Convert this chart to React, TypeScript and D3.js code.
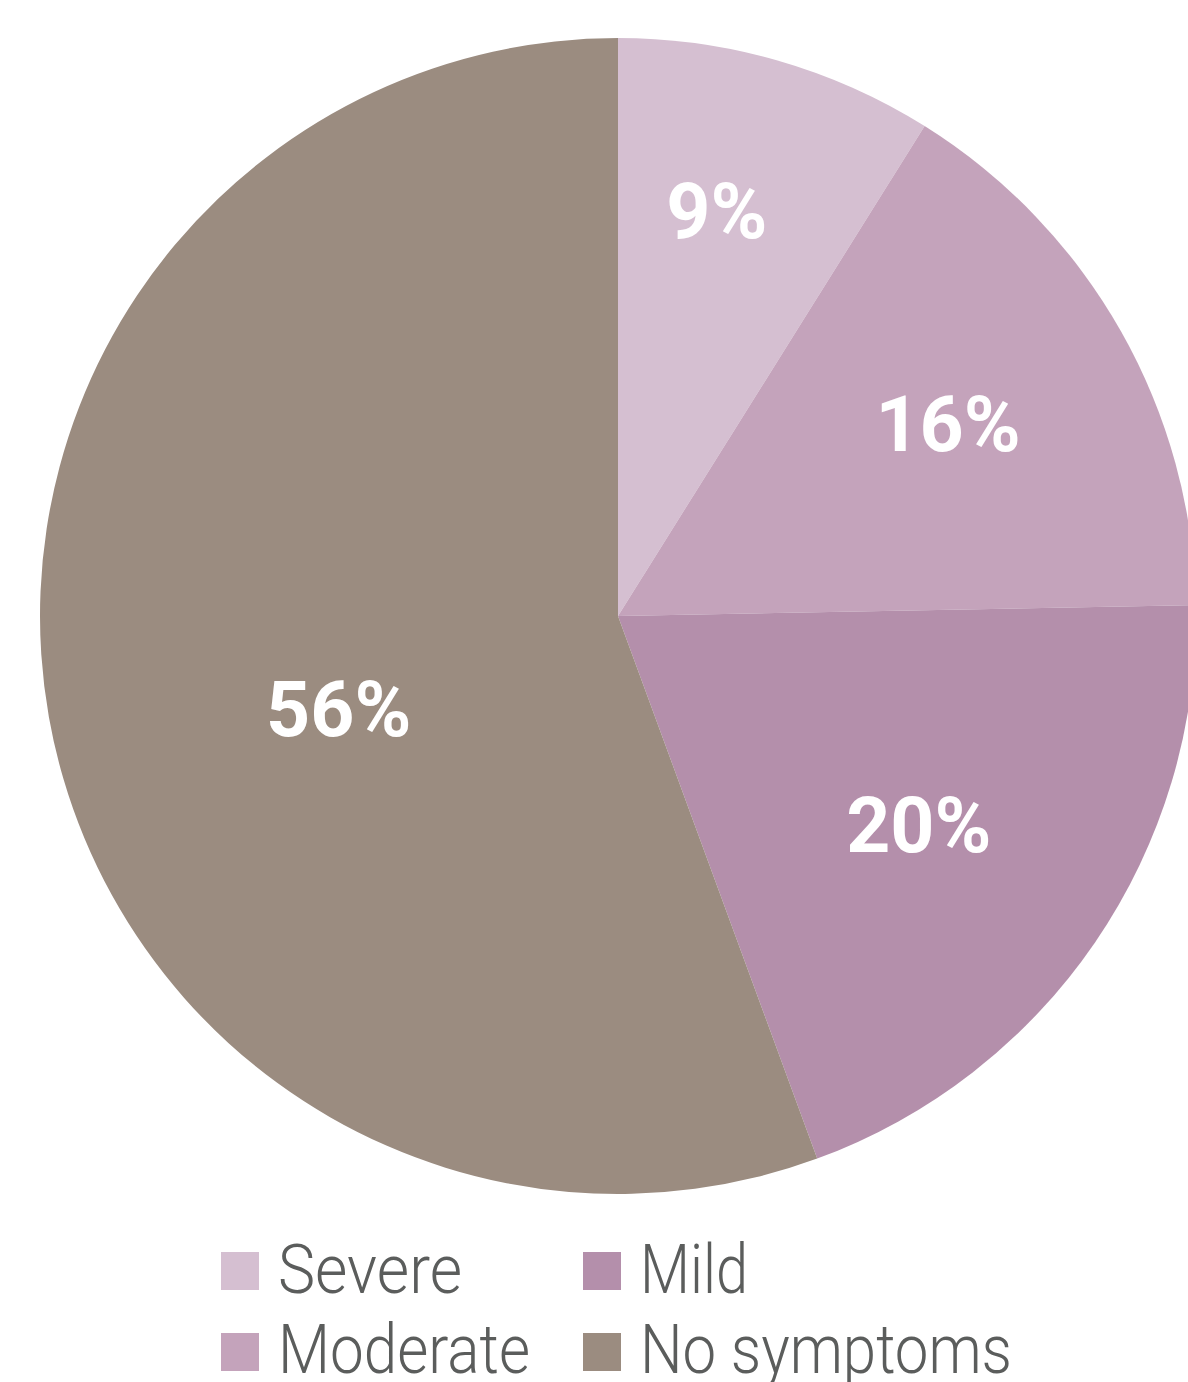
import React from "react";
import * as d3 from "d3";

const categories = ["Severe", "Moderate", "Mild", "No symptoms"];
const values = [8.9, 15.8, 19.7, 55.6];
const valueLabels = ["9%", "16%", "20%", "56%"];
const colors = ["#d5bfd1", "#c4a3bb", "#b48fab", "#9b8c80"];

// label placement styling (fraction of radius, angle nudge in radians)
const labelRadiusFrac = [0.72, 0.66, 0.635, 0.51];
const labelAngleNudge = [-0.04, -0.01, 0.01, -0.15];

const legendPos = [
  { x: 221, y: 1252, base: 1293, tx: 278, tw: 184 },
  { x: 221, y: 1333, base: 1373, tx: 278, tw: 252 },
  { x: 583, y: 1252, base: 1293, tx: 640, tw: 108 },
  { x: 583, y: 1333, base: 1373, tx: 640, tw: 372 },
];

export default function App() {
  const W = 1188;
  const H = 1382;
  const cx = 618;
  const cy = 616;
  const r = 578;

  const pie = d3.pie<number>().sort(null).value((d) => d);
  const arcs = pie(values);
  const arcGen = d3.arc<d3.PieArcDatum<number>>().innerRadius(0).outerRadius(r);

  return (
    <svg
      width={W}
      height={H}
      style={{ position: "absolute", left: 0, top: 0, background: "#fff" }}
    >
      <g transform={`translate(${cx},${cy})`}>
        {arcs.map((a, i) => (
          <path key={i} d={arcGen(a) || ""} fill={colors[i]} />
        ))}
        {arcs.map((a, i) => {
          const ang = (a.startAngle + a.endAngle) / 2 + labelAngleNudge[i];
          const lr = r * labelRadiusFrac[i];
          const x = Math.sin(ang) * lr;
          const y = -Math.cos(ang) * lr;
          return (
            <text
              key={"l" + i}
              x={x}
              y={y}
              textAnchor="middle"
              dominantBaseline="central"
              fill="#ffffff"
              fontFamily="Roboto, 'DejaVu Sans', sans-serif"
              fontWeight={700}
              fontSize={77}
            >
              {valueLabels[i]}
            </text>
          );
        })}
      </g>
      {categories.map((c, i) => (
        <g key={"lg" + i}>
          <rect x={legendPos[i].x} y={legendPos[i].y} width={38} height={38} fill={colors[i]} />
          <text
            x={legendPos[i].tx}
            y={legendPos[i].base}
            fill="#5b5d5c"
            fontFamily="Roboto, 'DejaVu Sans', sans-serif"
            fontWeight={300}
            fontSize={69}
            textLength={legendPos[i].tw}
            lengthAdjust="spacingAndGlyphs"
          >
            {c}
          </text>
        </g>
      ))}
    </svg>
  );
}
